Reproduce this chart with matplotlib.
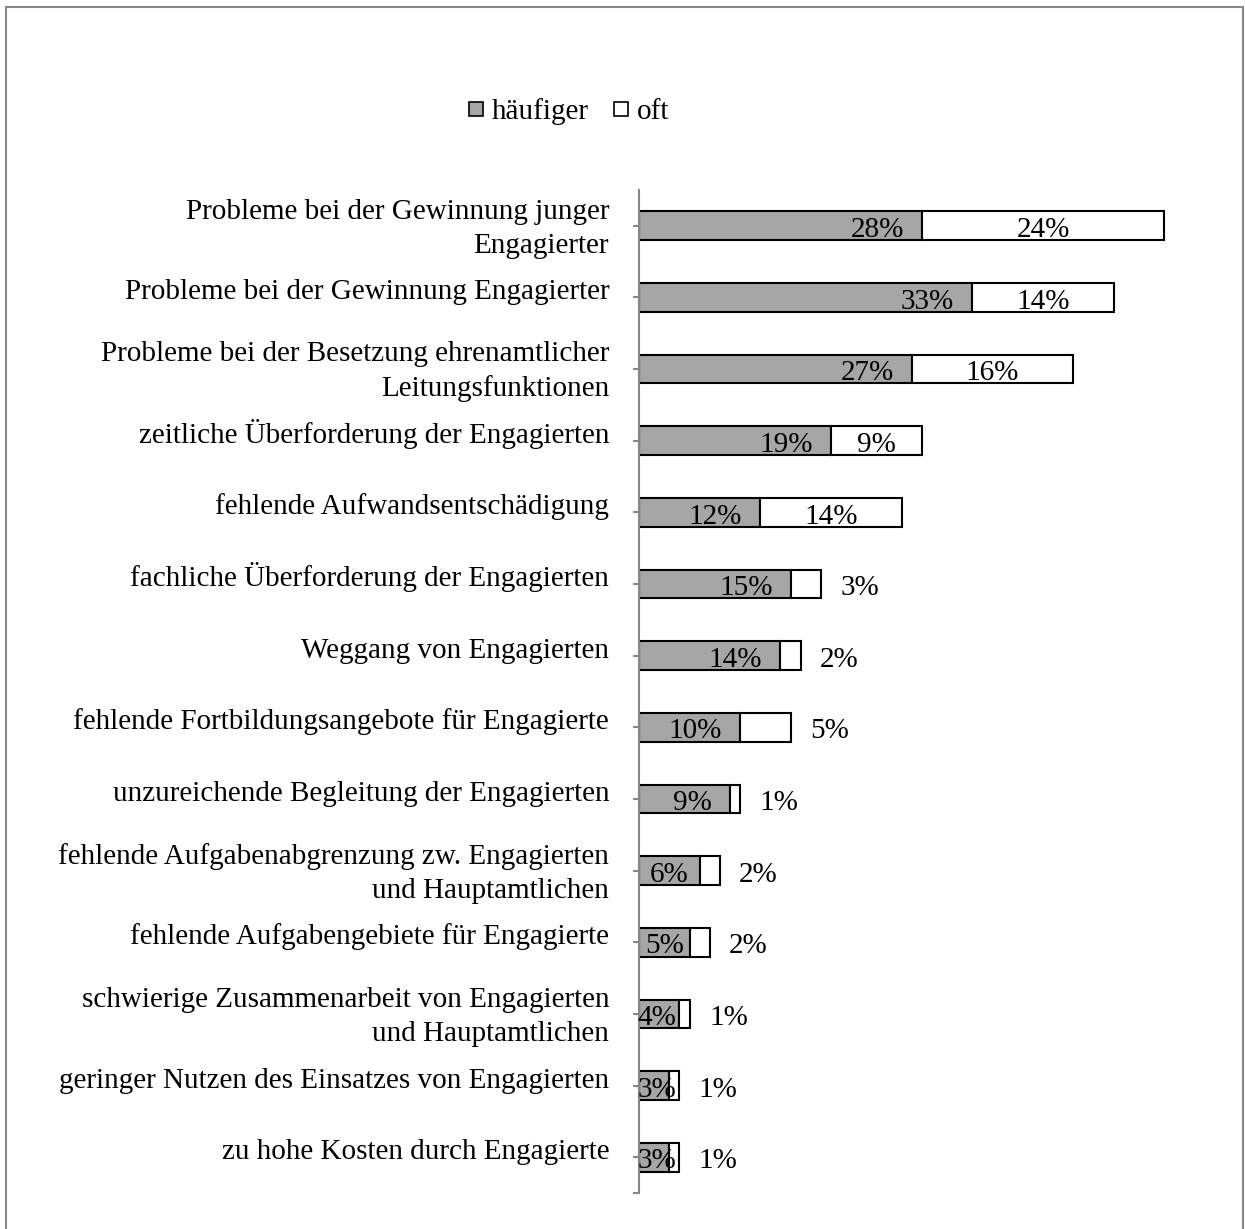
import matplotlib.pyplot as plt
from matplotlib.lines import Line2D
from matplotlib.patches import Rectangle
from matplotlib.transforms import ScaledTranslation

plt.rcParams['font.family'] = ['Liberation Serif', 'DejaVu Serif']

categories = [
    'Probleme bei der Gewinnung junger\nEngagierter',
    'Probleme bei der Gewinnung Engagierter',
    'Probleme bei der Besetzung ehrenamtlicher\nLeitungsfunktionen',
    'zeitliche Überforderung der Engagierten',
    'fehlende Aufwandsentschädigung',
    'fachliche Überforderung der Engagierten',
    'Weggang von Engagierten',
    'fehlende Fortbildungsangebote für Engagierte',
    'unzureichende Begleitung der Engagierten',
    'fehlende Aufgabenabgrenzung zw. Engagierten\nund Hauptamtlichen',
    'fehlende Aufgabengebiete für Engagierte',
    'schwierige Zusammenarbeit von Engagierten\nund Hauptamtlichen',
    'geringer Nutzen des Einsatzes von Engagierten',
    'zu hohe Kosten durch Engagierte',
]
haeufiger = [28, 33, 27, 19, 12, 15, 14, 10, 9, 6, 5, 4, 3, 3]
oft = [24, 14, 16, 9, 14, 3, 2, 5, 1, 2, 2, 1, 1, 1]

W, H = 1245, 1229
fig = plt.figure(figsize=(W / 100, H / 100), dpi=100)
ax = fig.add_axes([639 / W, 1 - 1193 / H, (W - 639) / W, (1193 - 190) / H])

FS = 21
gray = '#a6a6a6'
y = list(range(len(categories)))
ax.barh(y, haeufiger, height=0.4, color=gray, edgecolor='black', linewidth=1.5)
ax.barh(y, oft, left=haeufiger, height=0.4, color='white', edgecolor='black', linewidth=1.5)

ax.set_xlim(0, 60)
ax.set_ylim(13.5, -0.5)

# data labels (baseline a bit below bar middle, like the original)
dy = -8
for i, (a, b) in enumerate(zip(haeufiger, oft)):
    if a >= 9:
        ax.annotate(f'{a}%', (a, i), xytext=(-13, dy), textcoords='offset points',
                    ha='right', va='baseline', fontsize=FS)
    elif a >= 5:
        ax.annotate(f'{a}%', (a / 2, i), xytext=(0, dy), textcoords='offset points',
                    ha='center', va='baseline', fontsize=FS)
    else:
        ax.annotate(f'{a}%', (0, i), xytext=(-1, dy), textcoords='offset points',
                    ha='left', va='baseline', fontsize=FS)
    if b >= 9:
        ax.annotate(f'{b}%', (a + b / 2, i), xytext=(0, dy), textcoords='offset points',
                    ha='center', va='baseline', fontsize=FS)
    else:
        ax.annotate(f'{b}%', (a + b, i), xytext=(14, dy), textcoords='offset points',
                    ha='left', va='baseline', fontsize=FS)

for s in ['top', 'right', 'bottom']:
    ax.spines[s].set_visible(False)
ax.spines['left'].set_color('#868686')
ax.spines['left'].set_linewidth(1.5)
ax.set_xticks([])
ax.set_yticks(y)
ax.set_yticklabels(categories, fontsize=FS, va='baseline', linespacing=1.38)
ax.set_yticks([13.5], minor=True)
ax.tick_params(axis='y', which='both', length=4.5, width=1.5, color='#868686', pad=17)

# shift labels: last baseline sits just under the tick (one line) or well below it (two lines)
for lab, txt in zip(ax.get_yticklabels(), categories):
    shift = -0.27 if '\n' in txt else -0.02
    lab.set_transform(lab.get_transform() + ScaledTranslation(0, shift, fig.dpi_scale_trans))

handles = [Line2D([], [], marker='s', linestyle='none', markersize=10.5,
                  markerfacecolor=gray, markeredgecolor='black', markeredgewidth=1.2),
           Line2D([], [], marker='s', linestyle='none', markersize=10.5,
                  markerfacecolor='white', markeredgecolor='black', markeredgewidth=1.2)]
fig.legend(handles, ['häufiger', 'oft'], loc='center', bbox_to_anchor=(568 / W, 1 - 112 / H),
           ncol=2, frameon=False, fontsize=FS, handlelength=0.6, handletextpad=0.25,
           columnspacing=0.8)

fig.patches.append(Rectangle((6 / W, -0.05), (1243 - 6) / W, 1.05 - 7 / H,
                             transform=fig.transFigure, fill=False,
                             edgecolor='#888888', linewidth=1.5))

fig.savefig('out.png', dpi=100)
